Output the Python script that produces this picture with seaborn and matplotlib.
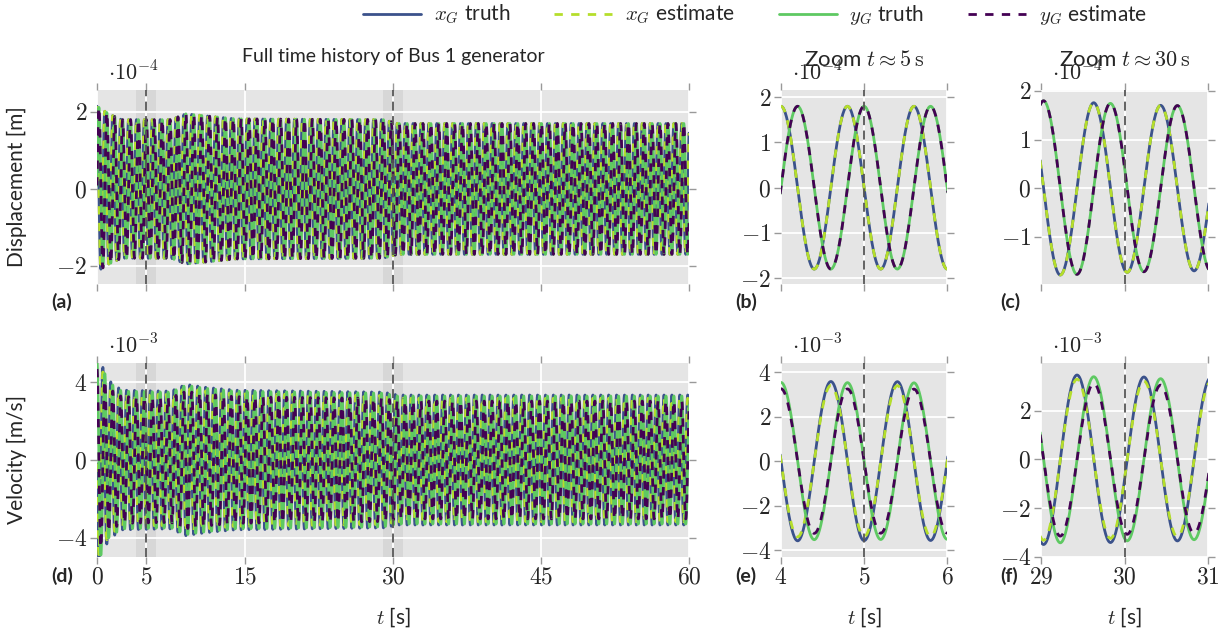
import numpy as np
import pandas as pd
import matplotlib
matplotlib.use("Agg")
import matplotlib.pyplot as plt
from matplotlib.ticker import FuncFormatter
from matplotlib.lines import Line2D
import seaborn as sns

# ---- values ----
# envelope knots for the full 60 s history (panels a and d)
env_t = [0.0, 0.3, 1.2, 2.5, 7.5, 9.0, 11.0, 14.0, 29.0, 30.5, 60.0]
disp_amp = [2.15, 2.10, 1.95, 1.80, 1.80, 1.95, 1.90, 1.82, 1.80, 1.70, 1.70]   # x 1e-4 m
vel_amp_x = [5.20, 5.10, 4.10, 3.60, 3.55, 3.90, 3.75, 3.60, 3.50, 3.35, 3.35]  # x 1e-3 m/s
vel_amp_y = [5.10, 5.00, 4.00, 3.55, 3.50, 3.85, 3.70, 3.55, 3.45, 3.30, 3.30]  # x 1e-3 m/s

period = 0.801        # s, peak spacing seen in (b), (c), (e), (f)
x_peak_t = 4.0        # x_G displacement peak in (b)
y_lag = 0.2           # y_G lags x_G by about a quarter period
vel_lead = 0.2        # velocity peak comes a quarter period before displacement peak
est_gain_disp = [1.0, 1.0]      # x_G, y_G estimate / truth
est_gain_vel = [0.95, 0.92]     # x_G, y_G estimate / truth

series = ["x_G truth", "x_G estimate", "y_G truth", "y_G estimate"]
labels = [r"$x_G$ truth", r"$x_G$ estimate", r"$y_G$ truth", r"$y_G$ estimate"]
colors = ["#3b528b", "#b5de2b", "#5ec962", "#440154"]
styles = ["-", (0, (3, 3)), "-", (0, (3, 3))]

full_ticks = [0, 5, 15, 30, 45, 60]
zoom_windows = [(4, 6), (29, 31)]
zoom_marks = [5, 30]

# ---- build time series ----
t = np.arange(0, 60.0001, 0.005)
w = 2 * np.pi / period
A = np.interp(t, env_t, disp_amp) * 1e-4
Bx = np.interp(t, env_t, vel_amp_x) * 1e-3
By = np.interp(t, env_t, vel_amp_y) * 1e-3

xd = A * np.cos(w * (t - x_peak_t))
yd = A * np.cos(w * (t - x_peak_t - y_lag))
xv = Bx * np.cos(w * (t - x_peak_t + vel_lead))
yv = By * np.cos(w * (t - x_peak_t - y_lag + vel_lead))

disp = pd.DataFrame({"t": t, "x_G truth": xd, "x_G estimate": xd * est_gain_disp[0],
                     "y_G truth": yd, "y_G estimate": yd * est_gain_disp[1]})
vel = pd.DataFrame({"t": t, "x_G truth": xv, "x_G estimate": xv * est_gain_vel[0],
                    "y_G truth": yv, "y_G estimate": yv * est_gain_vel[1]})

# ---- style ----
sns.set_theme(style="darkgrid")
plt.rcParams["font.family"] = ["Lato", "DejaVu Sans"]
plt.rcParams["mathtext.fontset"] = "cm"

fig = plt.figure(figsize=(12.28, 6.32), dpi=100)
W, H = 1228, 632


def box(x0, x1, y0, y1):
    return [x0 / W, 1 - y1 / H, (x1 - x0) / W, (y1 - y0) / H]


ax_a = fig.add_axes(box(97, 689, 90, 284))
ax_d = fig.add_axes(box(97, 689, 363, 557))
ax_b = fig.add_axes(box(781, 947, 90, 284))
ax_e = fig.add_axes(box(781, 947, 363, 557))
ax_c = fig.add_axes(box(1041, 1208, 90, 284))
ax_f = fig.add_axes(box(1041, 1208, 363, 557))


def draw(ax, df, lo, hi):
    sub = df[(df["t"] >= lo - 0.01) & (df["t"] <= hi + 0.01)]
    for s, c, ls in zip(series, colors, styles):
        sns.lineplot(x=sub["t"].values, y=sub[s].values, ax=ax, color=c,
                     linestyle=ls, lw=2, estimator=None, sort=False,
                     legend=False, zorder=3)
    ax.set_xlim(lo, hi)


def style(ax, scale, yticks, ylim, xticks, offset, xlabels):
    ax.set_facecolor("#e5e5e5")
    ax.set_axisbelow(True)
    ax.grid(True, color="white", lw=1.3)
    for sp in ax.spines.values():
        sp.set_visible(False)
    ax.set_ylim(*ylim)
    ax.set_yticks(yticks)
    ax.set_xticks(xticks)
    ax.yaxis.set_major_formatter(FuncFormatter(lambda v, p: f"${v / scale:g}$"))
    ax.xaxis.set_major_formatter(FuncFormatter(lambda v, p: f"${v:g}$"))
    ax.tick_params(which="both", direction="out", length=5, width=1,
                   color="#999999", top=True, right=True, left=True, bottom=True,
                   labeltop=False, labelright=False, labelbottom=xlabels,
                   labelsize=17, pad=2)
    ax.set_xlabel("")
    ax.set_ylabel("")
    ax.annotate(offset, xy=(0, 1), xycoords="axes fraction", xytext=(8, 4),
                textcoords="offset points", va="bottom", ha="left", fontsize=16)


# full history panels
for ax, df in [(ax_a, disp), (ax_d, vel)]:
    draw(ax, df, 0, 60)
    for (lo, hi), m in zip(zoom_windows, zoom_marks):
        ax.axvspan(lo, hi, color="#c8c8c8", alpha=0.45, lw=0, zorder=0.4)
        ax.axvline(m, color="#555555", ls=(0, (5, 3)), lw=1.3, zorder=5)

style(ax_a, 1e-4, [-2e-4, 0, 2e-4], (-2.47e-4, 2.57e-4), full_ticks, r"$\cdot 10^{-4}$", False)
style(ax_d, 1e-3, [-4e-3, 0, 4e-3], (-5e-3, 5e-3), full_ticks, r"$\cdot 10^{-3}$", True)

# zoom panels
zoom_axes = [(ax_b, ax_e, 0), (ax_c, ax_f, 1)]
for ax_top, ax_bot, i in zoom_axes:
    lo, hi = zoom_windows[i]
    draw(ax_top, disp, lo, hi)
    draw(ax_bot, vel, lo, hi)
    for ax in (ax_top, ax_bot):
        ax.axvline(zoom_marks[i], color="#555555", ls=(0, (5, 3)), lw=1.3, zorder=5)

style(ax_b, 1e-4, [-2e-4, -1e-4, 0, 1e-4, 2e-4], (-2.13e-4, 2.16e-4), [4, 5, 6], r"$\cdot 10^{-4}$", False)
style(ax_c, 1e-4, [-1e-4, 0, 1e-4, 2e-4], (-1.97e-4, 2.02e-4), [29, 30, 31], r"$\cdot 10^{-4}$", False)
style(ax_e, 1e-3, [-4e-3, -2e-3, 0, 2e-3, 4e-3], (-4.31e-3, 4.41e-3), [4, 5, 6], r"$\cdot 10^{-3}$", True)
style(ax_f, 1e-3, [-4e-3, -2e-3, 0, 2e-3], (-4.01e-3, 3.95e-3), [29, 30, 31], r"$\cdot 10^{-3}$", True)

# titles
ax_a.set_title("Full time history of Bus 1 generator", fontsize=14, pad=20)
ax_b.set_title(r"Zoom $t \approx 5\,\mathrm{s}$", fontsize=16, pad=17)
ax_c.set_title(r"Zoom $t \approx 30\,\mathrm{s}$", fontsize=16, pad=17)

# axis labels
ax_a.set_ylabel("Displacement [m]", fontsize=15)
ax_d.set_ylabel("Velocity [m/s]", fontsize=15)
ax_a.yaxis.set_label_coords(-0.118, 0.5)
ax_d.yaxis.set_label_coords(-0.118, 0.5)
for ax in (ax_d, ax_e, ax_f):
    ax.set_xlabel(r"$t$ [s]", fontsize=15)
    ax.xaxis.set_label_coords(0.5, -0.25)

# panel letters
for lab, x, y in [("(a)", 51, 302), ("(b)", 735, 302), ("(c)", 1000, 302),
                  ("(d)", 51, 576), ("(e)", 735, 576), ("(f)", 1000, 576)]:
    fig.text(x / W, 1 - y / H, lab, fontsize=14, fontweight="bold",
             ha="left", va="center")

# legend
handles = [Line2D([], [], color=c, ls=ls, lw=2) for c, ls in zip(colors, styles)]
fig.legend(handles, labels, loc="upper center", bbox_to_anchor=(755 / W, 1.025),
           ncol=4, frameon=False, fontsize=15, handlelength=2.8,
           handletextpad=0.6, columnspacing=2.1)

fig.savefig("out.png", dpi=100)
